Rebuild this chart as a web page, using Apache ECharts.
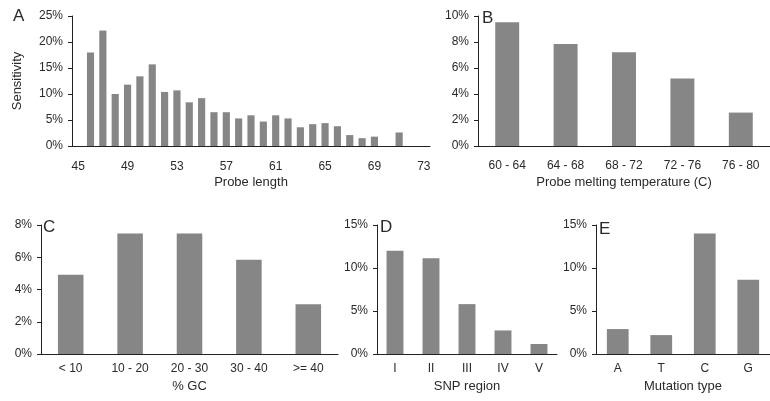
<!DOCTYPE html>
<html>
<head>
<meta charset="utf-8">
<script src="https://cdn.jsdelivr.net/npm/echarts@6/dist/echarts.min.js"></script>
<style>html,body{margin:0;padding:0;background:#fff}#c{width:770px;height:401px}</style>
</head>
<body>
<div id="c"></div>
<script>
// Panel A: probe length
const lengthCats = ['45','46','47','48','49','50','51','52','53','54','55','56','57','58','59','60','61','62','63','64','65','66','67','68','69','70','71','72','73'];
const lengthVals = [0,18.0,22.2,10.0,11.8,13.4,15.7,10.4,10.7,8.4,9.2,6.5,6.5,5.3,5.9,4.7,5.9,5.3,3.6,4.2,4.4,3.8,2.1,1.5,1.8,0,2.6,0,0];
// Panel B: melting temperature
const tempCats = ['60 - 64','64 - 68','68 - 72','72 - 76','76 - 80'];
const tempVals = [9.51,7.84,7.22,5.19,2.57];
// Panel C: % GC
const gcCats = ['< 10','10 - 20','20 - 30','30 - 40','>= 40'];
const gcVals = [4.91,7.48,7.48,5.84,3.09];
// Panel D: SNP region
const snpCats = ['I','II','III','IV','V'];
const snpVals = [12.0,11.13,5.8,2.74,1.16];
// Panel E: mutation type
const mutCats = ['A','T','C','G'];
const mutVals = [2.9,2.2,14.0,8.62];
// Y-axis ranges
const yMax = [25,10,8,15,15];
const yStep = [5,2,2,5,5];
const xNames = ['Probe length','Probe melting temperature (C)','% GC','SNP region','Mutation type'];
const panelLetters = ['A','B','C','D','E'];

const FONT = 'Liberation Sans, Arial, sans-serif';
const TXT = '#2a2a2a';
const grids = [
  {left:72, top:16, width:358, height:130},
  {left:478, top:16, width:292, height:130},
  {left:41, top:225, width:297, height:129},
  {left:377, top:225, width:180, height:129},
  {left:596, top:225, width:174, height:129}
];
const cats = [lengthCats,tempCats,gcCats,snpCats,mutCats];
const vals = [lengthVals,tempVals,gcVals,snpVals,mutVals];
const barW = ['58%','41%','43%','47%','50%'];
const labelMargin = [15,14,9,9,9];
const nameGap = [30,30,26,26,26];

const xAxes = [], yAxes = [], series = [], graphics = [];
for (let i=0;i<5;i++){
  xAxes.push({
    type:'category', gridIndex:i, data:cats[i],
    name:xNames[i], nameLocation:'middle', nameGap:nameGap[i],
    nameTextStyle:{fontFamily:FONT,fontSize:13,color:TXT},
    axisLine:{lineStyle:{color:'#222',width:1}},
    axisTick:{length:5,interval:0,lineStyle:{color:'#222'}},
    axisLabel:{interval: i===0?3:0, margin:labelMargin[i], fontFamily:FONT, fontSize:12, color:TXT}
  });
  yAxes.push({
    type:'value', gridIndex:i, min:0, max:yMax[i], interval:yStep[i],
    name: i===0?'Sensitivity':'', nameLocation:'middle', nameGap:48,
    nameTextStyle:{fontFamily:FONT,fontSize:13,color:TXT},
    splitLine:{show:false},
    axisLine:{show:true,lineStyle:{color:'#222',width:1}},
    axisTick:{show:true,length:4,lineStyle:{color:'#222'}},
    axisLabel:{formatter:'{value}%', margin:9, fontFamily:FONT, fontSize:12, color:TXT}
  });
  series.push({
    type:'bar', xAxisIndex:i, yAxisIndex:i, data:vals[i], barWidth:barW[i],
    itemStyle:{color:'#868686'}, silent:true
  });
}
const letterPos = [[13,8],[482,10],[43,219],[380,219],[599,221]];
for (let i=0;i<5;i++){
  graphics.push({type:'text', left:letterPos[i][0], top:letterPos[i][1],
    style:{text:panelLetters[i], font:'17px '+FONT, fill:TXT}});
}
const chart = echarts.init(document.getElementById('c'), null, {renderer:'canvas'});
chart.setOption({
  animation:false,
  backgroundColor:'#fff',
  grid:grids, xAxis:xAxes, yAxis:yAxes, series:series, graphic:graphics
});
</script>
</body>
</html>
